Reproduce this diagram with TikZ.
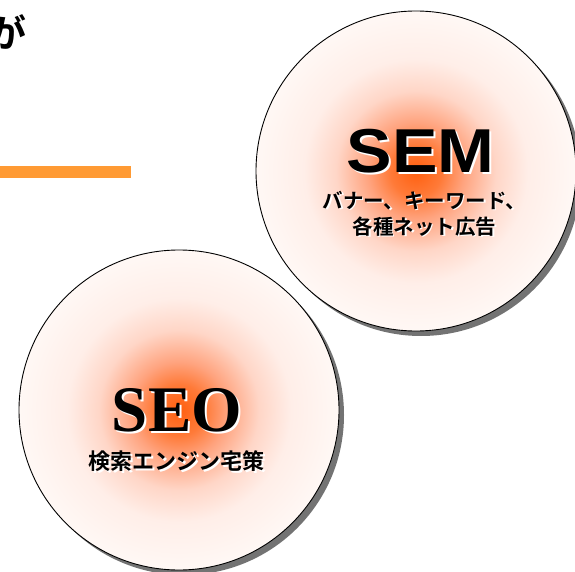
\documentclass[tikz,border=0pt]{standalone}
\usepackage{fontspec}
\setmainfont{Liberation Serif}
\newfontfamily\jp{Noto Sans CJK JP Bold}
\newfontfamily\arialb{Liberation Sans Bold}[FakeStretch=1.1]
\newfontfamily\timesb{Liberation Serif Bold}
\definecolor{bar}{HTML}{FF9A33}
\definecolor{cA}{HTML}{FF6010}
\definecolor{cB}{HTML}{FF7A38}
\definecolor{cC}{HTML}{FFA37E}
\definecolor{cD}{HTML}{FFD6C7}
\definecolor{cE}{HTML}{FFEEE8}
\definecolor{cF}{HTML}{FFF8F5}
\pgfdeclareradialshading{glow}{\pgfpoint{0bp}{0bp}}{color(0bp)=(cA); color(4bp)=(cB); color(7.5bp)=(cC); color(12.5bp)=(cD); color(17.5bp)=(cE); color(25bp)=(cF); color(50bp)=(cF)}
\tikzset{
  disc/.style={circle, draw=black, line width=0.9pt, minimum size=320pt, inner sep=0pt, shading=glow},
  discshadow/.style={circle, fill=black!55, minimum size=320pt, inner sep=0pt, draw=none},
  bigsans/.style={font=\arialb\fontsize{62}{62}\selectfont, inner sep=0pt},
  bigserif/.style={font=\timesb\fontsize{65}{65}\selectfont, inner sep=0pt},
  jpl/.style={font=\jp\fontsize{20.5}{26}\selectfont, inner sep=0pt, align=center},
}
\begin{document}
\begin{tikzpicture}[x=1pt,y=-1pt]
\useasboundingbox (0,0) rectangle (575,572);
\begin{scope}
\clip (0,0) rectangle (575,572);
% top-left partial text
\node[font=\jp\fontsize{38}{38}\selectfont, inner sep=0pt, anchor=east] (ga) at (27,32) {が};
% orange bar
\fill[bar] (0,166) rectangle (131,178);
% SEM circle
\node[discshadow] (semsh) at (421,176) {};
\node[disc] (sem) at (416,171) {};
% SEO circle
\node[discshadow] (seosh) at (184,415) {};
\node[disc] (seo) at (179,410) {};
% SEM texts
\node[bigsans, white] (semw) at (422.5,153.5) {SEM};
\node[bigsans] (semt) at (420.5,151.5) {SEM};
\node[jpl, white] (semjw) at (426,215) {バナー、キーワード、\\各種ネット広告};
\node[jpl] (semj) at (424.5,213.5) {バナー、キーワード、\\各種ネット広告};
% SEO texts
\node[bigserif, white] (seow) at (179,412) {SEO};
\node[bigserif] (seot) at (177,410) {SEO};
\node[jpl, white, font=\jp\fontsize{22}{26}\selectfont] (seojw) at (178,463) {検索エンジン宅策};
\node[jpl, font=\jp\fontsize{22}{26}\selectfont] (seoj) at (176.5,461.5) {検索エンジン宅策};
\end{scope}
\end{tikzpicture}
\end{document}
